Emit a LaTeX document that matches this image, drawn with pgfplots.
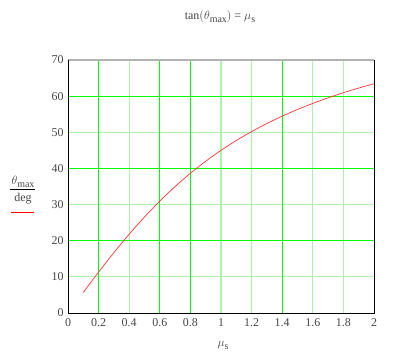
\documentclass[border=0pt]{standalone}
\usepackage{fontspec}
\setmainfont{Liberation Serif}
\usepackage{pgfplots}
\pgfplotsset{compat=1.18}
\definecolor{gbright}{RGB}{0,255,0}
\definecolor{glight}{RGB}{175,240,175}
\definecolor{tickgray}{RGB}{70,70,70}
\begin{document}
\begin{tikzpicture}
\path[use as bounding box] (-68bp,-48bp) rectangle (332bp,313bp);
\begin{axis}[
  scale only axis, width=306bp, height=253bp,
  xmin=0, xmax=2, ymin=0, ymax=70,
  xtick={0,0.2,0.4,0.6,0.8,1,1.2,1.4,1.6,1.8,2},
  xticklabels={0,0.2,0.4,0.6,0.8,1,1.2,1.4,1.6,1.8,2},
  ytick={0,10,20,30,40,50,60,70},
  yticklabels={0,10,20,30,40,50,60,70},
  major tick length=0pt,
  tick style={draw=none},
  axis line style={draw=none},
  tick label style={font=\fontsize{12}{14}\selectfont, text=tickgray},
  xticklabel style={yshift=-2bp},
  yticklabel style={xshift=-1bp},
]
\foreach \x in {0.4,1,1.2,1.6,1.8} {\edef\tmp{\noexpand\draw[glight, line width=1.2bp] (axis cs:\x,0) -- (axis cs:\x,70);}\tmp}
\foreach \y in {10,30,50} {\edef\tmp{\noexpand\draw[glight, line width=1.2bp] (axis cs:0,\y) -- (axis cs:2,\y);}\tmp}
\foreach \x in {0.2,0.6,0.8,1.4} {\edef\tmp{\noexpand\draw[gbright, line width=1.1bp] (axis cs:\x,0) -- (axis cs:\x,70);}\tmp}
\foreach \y in {20,40,60} {\edef\tmp{\noexpand\draw[gbright, line width=1.1bp] (axis cs:0,\y) -- (axis cs:2,\y);}\tmp}
\addplot[red!80, line width=0.7pt, smooth] coordinates {
(0.1,5.71) (0.2,11.31) (0.3,16.70) (0.4,21.80) (0.5,26.57) (0.6,30.96)
(0.7,34.99) (0.8,38.66) (0.9,41.99) (1.0,45.00) (1.1,47.73) (1.2,50.19)
(1.3,52.43) (1.4,54.46) (1.5,56.31) (1.6,57.99) (1.7,59.53) (1.8,60.95)
(1.9,62.24) (2.0,63.43)};
\end{axis}
\draw[black!30, line width=1.3pt] (0bp,253bp) -- (306bp,253bp);
\draw[black, line width=0.7pt] (0bp,253bp) -- (0bp,0bp) -- (306bp,0bp) -- (306bp,253bp);
\node[font=\fontsize{12}{14}\selectfont, text=tickgray] at (152bp,296bp) {tan$\bigl($$\theta$\raisebox{-3bp}{\fontsize{10}{11}\selectfont max}$\bigr)$ = $\mu$\raisebox{-3bp}{\fontsize{10}{11}\selectfont s}};
\node[font=\fontsize{12}{14}\selectfont, text=tickgray] at (155bp,-32bp) {$\mu$\raisebox{-3bp}{\fontsize{10}{11}\selectfont s}};
\node[font=\fontsize{12}{14}\selectfont, text=tickgray, inner sep=0pt] at (-45bp,131bp) {$\theta$\raisebox{-3bp}{\fontsize{10}{11}\selectfont max}};
\draw[black, line width=0.6pt] (-58bp,124bp) -- (-33bp,124bp);
\node[font=\fontsize{12}{14}\selectfont, text=tickgray, inner sep=0pt] at (-45bp,114bp) {deg};
\draw[red, line width=0.7pt] (-57bp,101bp) -- (-34bp,101bp);
\end{tikzpicture}
\end{document}
